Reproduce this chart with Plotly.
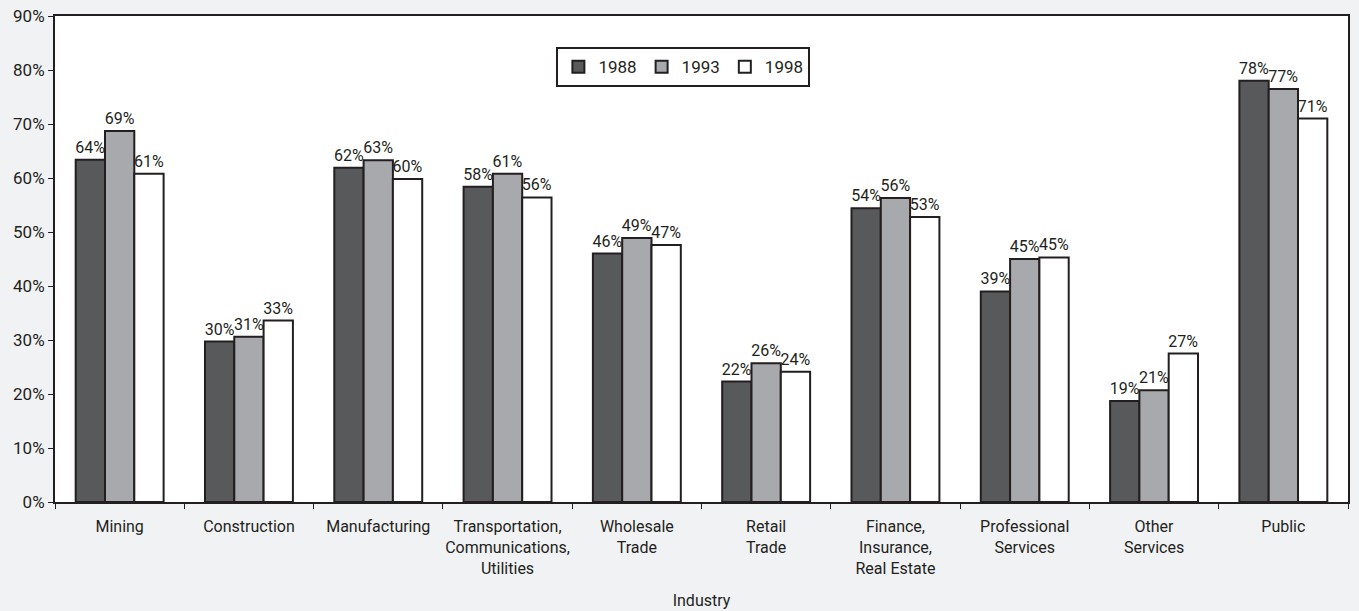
import plotly.graph_objects as go

categories = ["Mining", "Construction", "Manufacturing",
              "Transportation,<br>Communications,<br>Utilities",
              "Wholesale<br>Trade", "Retail<br>Trade",
              "Finance,<br>Insurance,<br>Real Estate",
              "Professional<br>Services", "Other<br>Services", "Public"]

years = ["1988", "1993", "1998"]
values_1988 = [63.4, 29.7, 61.9, 58.4, 46.0, 22.3, 54.4, 39.0, 18.7, 78.0]
values_1993 = [68.7, 30.6, 63.3, 60.8, 48.9, 25.7, 56.3, 45.0, 20.7, 76.5]
values_1998 = [60.8, 33.6, 59.8, 56.4, 47.6, 24.1, 52.8, 45.3, 27.5, 71.0]
labels_1988 = ["64%", "30%", "62%", "58%", "46%", "22%", "54%", "39%", "19%", "78%"]
labels_1993 = ["69%", "31%", "63%", "61%", "49%", "26%", "56%", "45%", "21%", "77%"]
labels_1998 = ["61%", "33%", "60%", "56%", "47%", "24%", "53%", "45%", "27%", "71%"]
colors = ["#58595b", "#a7a9ac", "#ffffff"]

FONT = "Roboto, sans-serif"

fig = go.Figure()
for name, vals, labs, col in zip(years, [values_1988, values_1993, values_1998],
                                 [labels_1988, labels_1993, labels_1998], colors):
    fig.add_trace(go.Bar(
        x=categories, y=vals, name=name, text=labs,
        textposition="outside", constraintext="none", cliponaxis=False,
        textfont=dict(family=FONT, size=16, color="#231f20"),
        marker=dict(color=col, line=dict(color="#231f20", width=2)),
    ))

fig.update_layout(
    width=1359, height=611,
    margin=dict(l=55, r=11, t=16, b=109, autoexpand=False),
    paper_bgcolor="#f1f2f4", plot_bgcolor="#ffffff",
    barmode="group", bargap=0.32, bargroupgap=0,
    font=dict(family=FONT, size=16, color="#231f20"),
    legend=dict(orientation="h", x=0.486, y=0.936, xanchor="center", yanchor="top",
                bgcolor="#ffffff", bordercolor="#231f20", borderwidth=2,
                font=dict(size=17), itemwidth=30),
    xaxis=dict(title=dict(text="Industry", font=dict(size=16), standoff=18),
               automargin=False,
               showline=True, linecolor="#231f20", linewidth=2, mirror=True,
               ticks="outside", tickson="boundaries", ticklen=5, tickcolor="#231f20",
               tickangle=0, ticklabelstandoff=9, tickfont=dict(size=16)),
    yaxis=dict(range=[0, 90], dtick=10, ticksuffix="%", showgrid=False,
               automargin=False,
               showline=True, linecolor="#231f20", linewidth=2, mirror=True,
               ticks="outside", ticklen=5, tickcolor="#231f20", zeroline=False,
               tickfont=dict(size=17)),
)

fig.write_html("out.html")
